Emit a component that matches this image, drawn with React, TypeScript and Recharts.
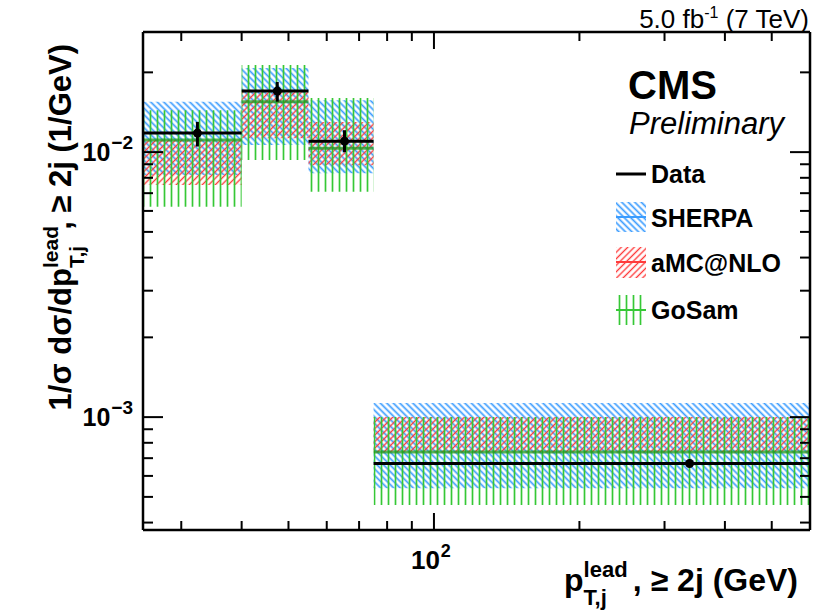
import React from 'react';
import {
  ComposedChart, XAxis, YAxis, Scatter, ErrorBar, ReferenceArea, ReferenceLine,
} from 'recharts';

// bins (GeV)
const binLow = [25, 40, 55, 75];
const binHigh = [40, 55, 75, 600];
// data points
const dataX = [32.4, 47.4, 65.3, 338];
const dataY = [0.0118, 0.0170, 0.0110, 0.000668];
const dataErrDown = [0.0013, 0.0015, 0.0010, 0.00002];
const dataErrUp = [0.0012, 0.0014, 0.0011, 0.00002];
// model bands
const sherpaLow = [0.00819, 0.01063, 0.00833, 0.000539];
const sherpaHigh = [0.0155, 0.02075, 0.01571, 0.00113];
const amcLow = [0.00751, 0.01129, 0.00893, 0.000735];
const amcHigh = [0.0111, 0.01684, 0.01298, 0.001];
const gosamLow = [0.00622, 0.00933, 0.00708, 0.000466];
const gosamHigh = [0.0144, 0.0213, 0.016, 0.001];
const gosamCentral = [0.0111, 0.01548, 0.01035, 0.000738];
// ticks
const xTicks = [30, 40, 50, 60, 70, 80, 90, 100, 200, 300, 400, 500];
const yTicks = [0.0004, 0.0005, 0.0006, 0.0007, 0.0008, 0.0009, 0.001,
  0.002, 0.003, 0.004, 0.005, 0.006, 0.007, 0.008, 0.009, 0.01, 0.02];
const xDomain = [25, 600];
const yDomain = [0.000375, 0.0284];

const FONT = '"Liberation Sans", Arial, Helvetica, sans-serif';

const points = dataX.map((x, i) => ({ x, y: dataY[i], err: [dataErrDown[i], dataErrUp[i]] }));

const isMajor = (v: number) => Math.abs(Math.log10(v) - Math.round(Math.log10(v))) < 1e-6;

const XTickBottom = (props: any) => {
  const { x, y, payload } = props;
  const major = isMajor(payload.value);
  const exp = Math.round(Math.log10(payload.value));
  return (
    <g>
      <line x1={x} x2={x} y1={y} y2={y - (major ? 17 : 9)} stroke="#000" strokeWidth={2} />
      {major && (
        <text x={x - 23} y={y + 39} textAnchor="start" fontFamily={FONT} fontWeight="bold" fontSize={26} fill="#000">
          10<tspan dx={1} dy={-12} fontSize={18}>{exp}</tspan>
        </text>
      )}
    </g>
  );
};
const XTickTop = (props: any) => {
  const { x, y, payload } = props;
  const major = isMajor(payload.value);
  return <line x1={x} x2={x} y1={y} y2={y + (major ? 17 : 9)} stroke="#000" strokeWidth={2} />;
};
const YTickLeft = (props: any) => {
  const { x, y, payload } = props;
  const major = isMajor(payload.value);
  const exp = Math.round(Math.log10(payload.value));
  return (
    <g>
      <line x1={x} x2={x + (major ? 20 : 10)} y1={y} y2={y} stroke="#000" strokeWidth={2} />
      {major && (
        <text x={x - 10} y={y + 9} textAnchor="end" fontFamily={FONT} fontWeight="bold" fontSize={25} fill="#000">
          10<tspan dx={1} dy={-12} fontSize={19}>{'\u2212' + Math.abs(exp)}</tspan>
        </text>
      )}
    </g>
  );
};
const YTickRight = (props: any) => {
  const { x, y, payload } = props;
  const major = isMajor(payload.value);
  return <line x1={x} x2={x - (major ? 20 : 10)} y1={y} y2={y} stroke="#000" strokeWidth={2} />;
};

const Dot = (props: any) => <circle cx={props.cx} cy={props.cy} r={4.5} fill="#000" />;
const NoShape = () => <g />;

const axisLine = { stroke: '#000', strokeWidth: 2.5 };

export default function App() {
  return (
    <div style={{ position: 'absolute', left: 0, top: 0, width: 827, height: 611, background: '#fff' }}>
      <ComposedChart width={827} height={611} margin={{ top: 31, right: 16, bottom: 0, left: 0 }}>
        <XAxis xAxisId={0} dataKey="x" type="number" scale="log" domain={xDomain} allowDataOverflow
          ticks={xTicks} interval={0} tick={<XTickBottom />} tickLine={false} tickSize={0} tickMargin={0}
          axisLine={axisLine} height={81} />
        <XAxis xAxisId="top" dataKey="x" orientation="top" type="number" scale="log" domain={xDomain} allowDataOverflow
          ticks={xTicks} interval={0} tick={<XTickTop />} tickLine={false} tickSize={0} tickMargin={0}
          axisLine={axisLine} height={1} />
        <YAxis yAxisId={0} dataKey="y" type="number" scale="log" domain={yDomain} allowDataOverflow
          ticks={yTicks} interval={0} tick={<YTickLeft />} tickLine={false} tickSize={0} tickMargin={0}
          axisLine={axisLine} width={143} />
        <YAxis yAxisId="right" dataKey="y" orientation="right" type="number" scale="log" domain={yDomain} allowDataOverflow
          ticks={yTicks} interval={0} tick={<YTickRight />} tickLine={false} tickSize={0} tickMargin={0}
          axisLine={axisLine} width={1} />

        {binLow.map((lo, i) => (
          <ReferenceArea key={'s' + i} x1={lo} x2={binHigh[i]} y1={sherpaLow[i]} y2={sherpaHigh[i]}
            fill="url(#hatchSherpa)" fillOpacity={1} stroke="none" ifOverflow="hidden" />
        ))}
        {binLow.map((lo, i) => (
          <ReferenceArea key={'a' + i} x1={lo} x2={binHigh[i]} y1={amcLow[i]} y2={amcHigh[i]}
            fill="url(#hatchAmc)" fillOpacity={1} stroke="none" ifOverflow="hidden" />
        ))}
        {binLow.map((lo, i) => (
          <ReferenceArea key={'g' + i} x1={lo} x2={binHigh[i]} y1={gosamLow[i]} y2={gosamHigh[i]}
            fill="url(#hatchGosam)" fillOpacity={1} stroke="none" ifOverflow="hidden" />
        ))}
        {binLow.map((lo, i) => (
          <ReferenceLine key={'gc' + i} segment={[{ x: lo, y: gosamCentral[i] }, { x: binHigh[i], y: gosamCentral[i] }]}
            stroke="#1f9a1f" strokeOpacity={0.75} strokeWidth={3} ifOverflow="hidden" />
        ))}
        {binLow.map((lo, i) => (
          <ReferenceLine key={'d' + i} segment={[{ x: lo, y: dataY[i] }, { x: binHigh[i], y: dataY[i] }]}
            stroke="#000" strokeWidth={3} ifOverflow="hidden" />
        ))}
        <Scatter data={points} dataKey="y" shape={<Dot />} isAnimationActive={false}>
          <ErrorBar dataKey="err" direction="y" width={0} stroke="#000" strokeWidth={3} isAnimationActive={false} />
        </Scatter>
        <Scatter data={points} dataKey="y" xAxisId="top" yAxisId="right" shape={<NoShape />} isAnimationActive={false} />
      </ComposedChart>

      <svg width={827} height={611} style={{ position: 'absolute', left: 0, top: 0, pointerEvents: 'none' }}>
        <defs>
          <pattern id="hatchSherpa" patternUnits="userSpaceOnUse" width={4.6} height={4.6} patternTransform="rotate(-45)">
            <line x1={2.3} y1={0} x2={2.3} y2={4.6} stroke="#3a9cff" strokeWidth={1.7} />
          </pattern>
          <pattern id="hatchAmc" patternUnits="userSpaceOnUse" width={4.6} height={4.6} patternTransform="rotate(45)">
            <line x1={2.3} y1={0} x2={2.3} y2={4.6} stroke="#ff3b3b" strokeWidth={1.4} />
          </pattern>
          <pattern id="hatchGosam" patternUnits="userSpaceOnUse" width={7} height={7}>
            <line x1={3.5} y1={0} x2={3.5} y2={7} stroke="#36c836" strokeWidth={1.7} />
          </pattern>
        </defs>

        <text x={809} y={28} textAnchor="end" fontFamily={FONT} fontSize={26} fill="#000">
          5.0 fb<tspan dy={-10} fontSize={16}>-1</tspan><tspan dy={10}> (7 TeV)</tspan>
        </text>

        <text x={628} y={99} fontFamily={FONT} fontWeight="bold" fontSize={40} fill="#000">CMS</text>
        <text x={629} y={134} fontFamily={FONT} fontStyle="italic" fontSize={31} fill="#000">Preliminary</text>

        {/* legend */}
        <line x1={616} x2={646} y1={174} y2={174} stroke="#000" strokeWidth={3} />
        <rect x={616} y={202} width={30} height={30} fill="url(#hatchSherpa)" />
        <line x1={616} x2={646} y1={217} y2={217} stroke="#3a9cff" strokeWidth={2} />
        <rect x={616} y={247} width={30} height={31} fill="url(#hatchAmc)" />
        <line x1={616} x2={646} y1={262} y2={262} stroke="#ff3b3b" strokeWidth={2} />
        <rect x={616} y={295} width={30} height={30} fill="url(#hatchGosam)" />
        <line x1={616} x2={646} y1={310} y2={310} stroke="#36c836" strokeWidth={2} />
        <g fontFamily={FONT} fontWeight="bold" fontSize={25} fill="#000">
          <text x={651} y={183}>Data</text>
          <text x={651} y={227}>SHERPA</text>
          <text x={651} y={272}>aMC@NLO</text>
          <text x={651} y={319}>GoSam</text>
        </g>

        {/* y axis title */}
        <text transform="translate(71,44) rotate(-90)" textAnchor="end" fontFamily={FONT} fontWeight="bold" fontSize={31} fill="#000">
          1/σ dσ/dp<tspan dy={-13} fontSize={21}>lead</tspan><tspan dx={-42} dy={26} fontSize={21}>T,j</tspan><tspan dx={16} dy={-13}>, ≥ 2j (1/GeV)</tspan>
        </text>

        {/* x axis title */}
        <text x={798} y={591} textAnchor="end" fontFamily={FONT} fontWeight="bold" fontSize={32} fill="#000">
          p<tspan dy={-14} fontSize={22}>lead</tspan><tspan dx={-44} dy={28} fontSize={22}>T,j</tspan><tspan dx={26} dy={-14}>, ≥ 2j (GeV)</tspan>
        </text>
      </svg>
    </div>
  );
}
